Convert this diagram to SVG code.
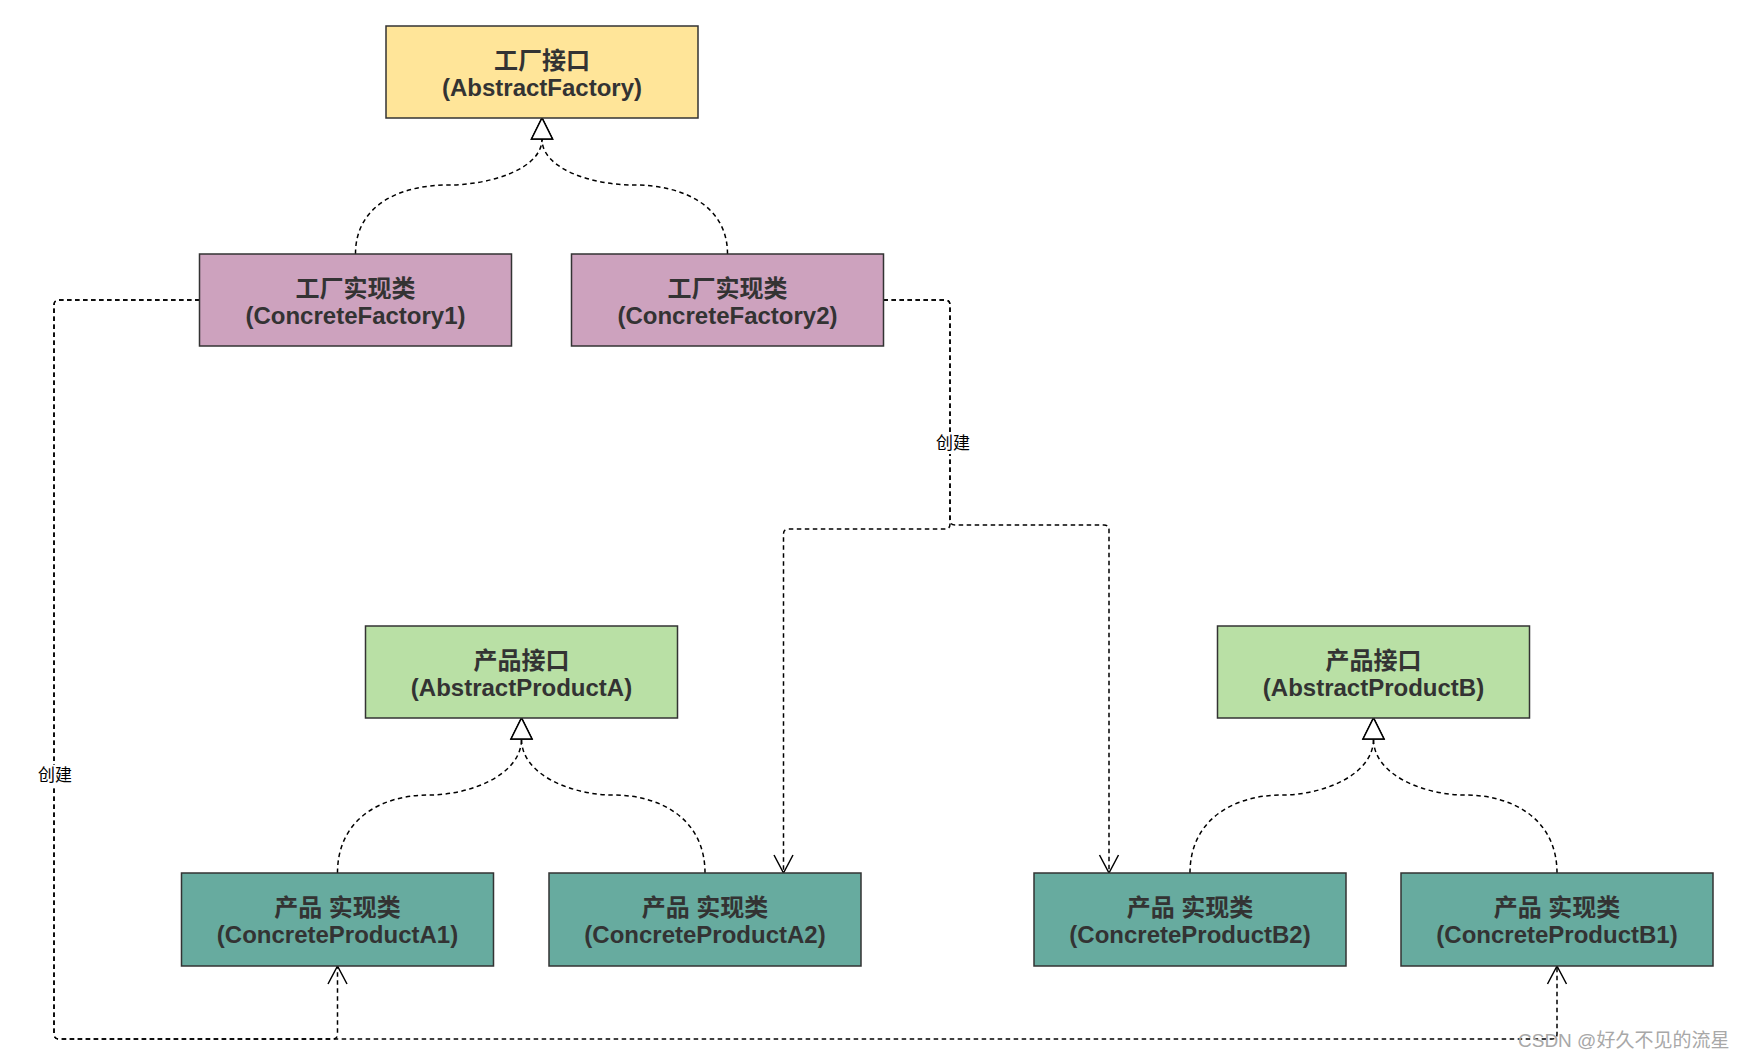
<svg xmlns="http://www.w3.org/2000/svg" width="1745" height="1062" viewBox="0 0 1745 1062">
<style>
.box{stroke:#333333;stroke-width:1.5}
.af{fill:#FFE599}
.cf{fill:#CDA2BE}
.ap{fill:#B9E0A5}
.cp{fill:#67AB9F}
.t{font-family:"Liberation Sans","Noto Sans CJK SC",sans-serif;font-weight:bold;font-size:24px;fill:#333333;text-anchor:middle}
.e{fill:none;stroke:#000000;stroke-width:1.5;stroke-dasharray:4.5 3.5}
.lbl{font-family:"Noto Sans CJK SC",sans-serif;font-size:17px;fill:#000000;text-anchor:middle}
.wm{font-family:"Liberation Sans","Noto Sans CJK SC",sans-serif;font-size:19px;fill:#a8a8a8}
</style>
<defs>
<marker id="open" markerUnits="userSpaceOnUse" markerWidth="24" markerHeight="24" viewBox="-20 -12 22 24" refX="0" refY="0" orient="auto" overflow="visible">
<path d="M-18,-9.5 L0,0 L-18,9.5" fill="none" stroke="#000000" stroke-width="1.5"/>
</marker>
<marker id="tri" markerUnits="userSpaceOnUse" markerWidth="24" markerHeight="24" viewBox="-1 -12 24 24" refX="0" refY="0" orient="auto" overflow="visible">
<path d="M0,-10.5 L21,0 L0,10.5 Z" fill="#ffffff" stroke="#000000" stroke-width="1.5"/>
</marker>
</defs>
<rect width="1745" height="1062" fill="#ffffff"/>

<g id="connectors">
<path class="e" d="M355.5,254 C355.5,205 400,185 448,185 C490,185 542,169 542,139" marker-end="url(#tri)"/>
<path class="e" d="M727.5,254 C727.5,205 682,185 634,185 C592,185 542,169 542,139" marker-end="url(#tri)"/>
<path class="e" d="M337.5,873 C337.5,820 380,795 429,795 C470,795 521.5,775 521.5,739" marker-end="url(#tri)"/>
<path class="e" d="M705,873 C705,820 662,795 613,795 C572,795 521.5,775 521.5,739" marker-end="url(#tri)"/>
<path class="e" d="M1190,873 C1190,820 1233,795 1282,795 C1323,795 1373.5,775 1373.5,739" marker-end="url(#tri)"/>
<path class="e" d="M1557,873 C1557,820 1514,795 1465,795 C1424,795 1373.5,775 1373.5,739" marker-end="url(#tri)"/>

<path class="e" d="M199.5,300 L59,300 Q54,300 54,305 L54,1034 Q54,1039 59,1039 L332.5,1039 Q337.5,1039 337.5,1034 L337.5,966" marker-end="url(#open)"/>
<path class="e" d="M199.5,300 L59,300 Q54,300 54,305 L54,1034 Q54,1039 59,1039 L1552,1039 Q1557,1039 1557,1034 L1557,966" marker-end="url(#open)"/>
<path class="e" d="M883.5,300 L945,300 Q950,300 950,305 L950,524 Q950,529 945,529 L788.5,529 Q783.5,529 783.5,534 L783.5,873" marker-end="url(#open)"/>
<path class="e" d="M883.5,300 L945,300 Q950,300 950,305 L950,520 Q950,525 955,525 L1104,525 Q1109,525 1109,530 L1109,873" marker-end="url(#open)"/>

<rect x="936" y="433" width="34" height="21" fill="#ffffff"/>
<text class="lbl" x="953" y="449">创建</text>
<rect x="38" y="765" width="34" height="21" fill="#ffffff"/>
<text class="lbl" x="55" y="781">创建</text>
</g>

<g id="abstract-factory">
<rect class="box af" x="386" y="26" width="312" height="92"/>
<text class="t" x="542" y="69">工厂接口</text>
<text class="t" x="542" y="96">(AbstractFactory)</text>
</g>
<g id="concrete-factory-1">
<rect class="box cf" x="199.5" y="254" width="312" height="92"/>
<text class="t" x="355.5" y="297">工厂实现类</text>
<text class="t" x="355.5" y="324">(ConcreteFactory1)</text>
</g>
<g id="concrete-factory-2">
<rect class="box cf" x="571.5" y="254" width="312" height="92"/>
<text class="t" x="727.5" y="297">工厂实现类</text>
<text class="t" x="727.5" y="324">(ConcreteFactory2)</text>
</g>
<g id="abstract-product-a">
<rect class="box ap" x="365.5" y="626" width="312" height="92"/>
<text class="t" x="521.5" y="669">产品接口</text>
<text class="t" x="521.5" y="696">(AbstractProductA)</text>
</g>
<g id="abstract-product-b">
<rect class="box ap" x="1217.5" y="626" width="312" height="92"/>
<text class="t" x="1373.5" y="669">产品接口</text>
<text class="t" x="1373.5" y="696">(AbstractProductB)</text>
</g>
<g id="concrete-product-a1">
<rect class="box cp" x="181.5" y="873" width="312" height="93"/>
<text class="t" x="337.5" y="916">产品 实现类</text>
<text class="t" x="337.5" y="943">(ConcreteProductA1)</text>
</g>
<g id="concrete-product-a2">
<rect class="box cp" x="549" y="873" width="312" height="93"/>
<text class="t" x="705" y="916">产品 实现类</text>
<text class="t" x="705" y="943">(ConcreteProductA2)</text>
</g>
<g id="concrete-product-b2">
<rect class="box cp" x="1034" y="873" width="312" height="93"/>
<text class="t" x="1190" y="916">产品 实现类</text>
<text class="t" x="1190" y="943">(ConcreteProductB2)</text>
</g>
<g id="concrete-product-b1">
<rect class="box cp" x="1401" y="873" width="312" height="93"/>
<text class="t" x="1557" y="916">产品 实现类</text>
<text class="t" x="1557" y="943">(ConcreteProductB1)</text>
</g>

<text class="wm" x="1518" y="1047">CSDN @好久不见的流星</text>
</svg>
